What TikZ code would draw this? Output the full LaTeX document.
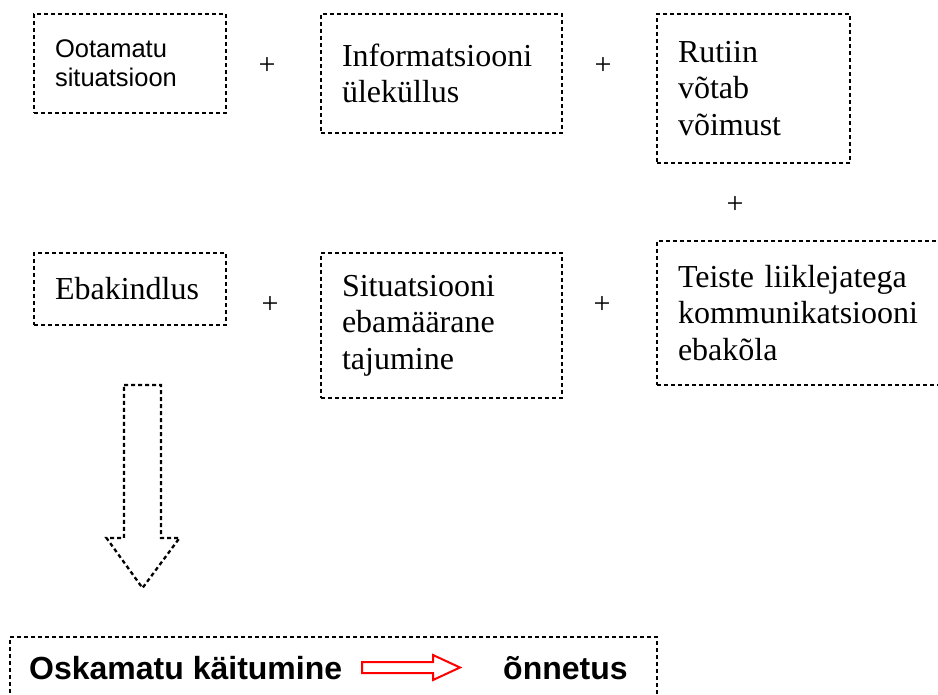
\documentclass[tikz,border=0pt]{standalone}
\usepackage{fontspec}
\setmainfont{Liberation Serif}
\setsansfont{Liberation Sans}
\begin{document}
\begin{tikzpicture}[x=1pt,y=-1pt,
  dline/.style={line width=2.3pt, dash pattern=on 4pt off 3pt},
  dbox/.style={draw, dline, inner xsep=21pt, inner ysep=0pt, align=left},
  tms/.style={font={\fontsize{32}{36.5}\selectfont}},
  ars/.style={font={\sffamily\fontsize{25.5}{29}\selectfont}},
  bld/.style={font={\sffamily\bfseries\fontsize{32}{36}\selectfont}, inner sep=0pt},
  plus/.style={font={\fontsize{30}{32}\selectfont}, inner sep=0pt}
]
\useasboundingbox (0,0) rectangle (938,695);
% top row
\node[dbox, ars, minimum width=192pt, minimum height=99pt, text width=150pt] (b1) at (130,63.5) {Ootamatu\\situatsioon};
\node[dbox, tms, minimum width=241pt, minimum height=119pt, text width=199pt] (b2) at (441.5,73.5) {Informatsiooni\\ülekül\-lus};
\node[dbox, tms, minimum width=193pt, minimum height=149pt, text width=151pt] (b3) at (753.5,88.5) {Rutiin\\võtab\\võimust};
% second row
\node[dbox, tms, minimum width=192pt, minimum height=72pt, text width=150pt] (b4) at (130,289) {Ebakindlus};
\node[dbox, tms, minimum width=241pt, minimum height=145pt, text width=199pt] (b5) at (441.5,325.5) {Situatsiooni\\ebamäärane\\tajumine};
\node[dbox, tms, minimum width=288pt, minimum height=144pt, text width=246pt] (b6) at (801,313) {Teiste liiklejatega\\kommunikatsiooni\\ebakõla};
% plus signs
\node[plus] (p1) at (267,66) {+};
\node[plus] (p2) at (603,66) {+};
\node[plus] (p3) at (735,205) {+};
\node[plus] (p4) at (270,305) {+};
\node[plus] (p5) at (602,305) {+};
% down block arrow
\coordinate (dtop) at (142.5,385);
\coordinate (dtip) at (142.5,588);
\draw[dline] ([xshift=-18.5pt]dtop) -- ([xshift=18.5pt]dtop) -- ([xshift=18.5pt]dtop |- 0,538) -- ([xshift=37pt]dtop |- 0,538) -- (dtip) -- ([xshift=-36pt]dtop |- 0,538) -- ([xshift=-18.5pt]dtop |- 0,538) -- cycle;
% bottom box
\node[draw, dline, minimum width=647pt, minimum height=68pt, inner sep=0pt] (bb) at (333.5,671) {};
\node[bld, anchor=base west] (osk) at (29,679) {Oskamatu käitumine};
\node[bld, anchor=base west] (onn) at (503,679) {õnnetus};
% red arrow
\coordinate (ra) at (362,667.5);
\coordinate (rb) at (460,667.5);
\draw[red, line width=2pt, line join=miter]
  ([yshift=-5.5pt]ra) -- ([xshift=-27pt,yshift=-5.5pt]rb) -- ([xshift=-27pt,yshift=-12.5pt]rb) -- (rb)
  -- ([xshift=-27pt,yshift=12.5pt]rb) -- ([xshift=-27pt,yshift=5.5pt]rb) -- ([yshift=5.5pt]ra) -- cycle;
\end{tikzpicture}
\end{document}
